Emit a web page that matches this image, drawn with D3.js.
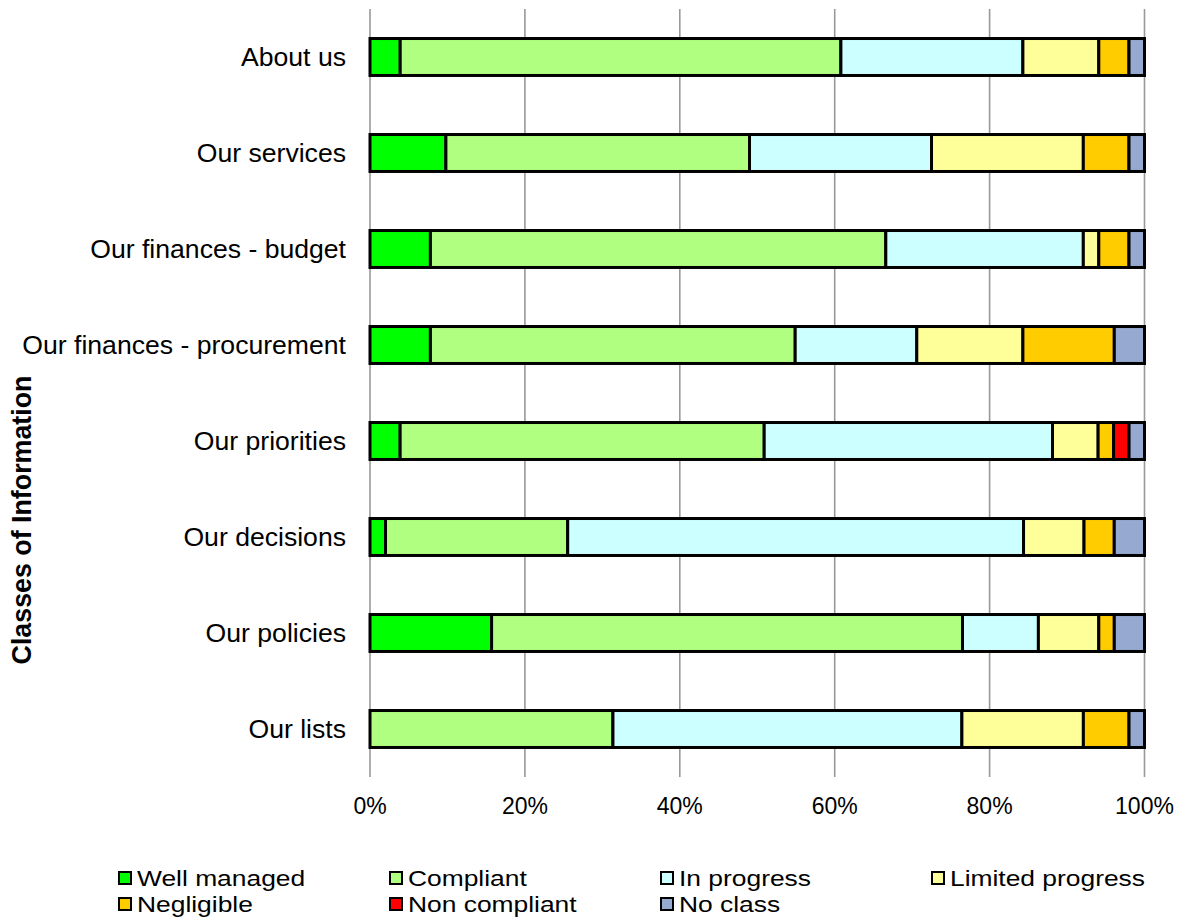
<!DOCTYPE html>
<html>
<head>
<meta charset="utf-8">
<script src="https://cdn.jsdelivr.net/npm/d3@7/dist/d3.min.js"></script>
<style>
  html, body { margin: 0; padding: 0; background: #fff; }
  svg { display: block; font-family: "Liberation Sans", Arial, sans-serif; }
</style>
</head>
<body>
<svg id="chart" width="1185" height="919"></svg>
<script>
// Categories, top to bottom
const categories = [
  "About us",
  "Our services",
  "Our finances - budget",
  "Our finances - procurement",
  "Our priorities",
  "Our decisions",
  "Our policies",
  "Our lists"
];

// Series (percent of each class)
const seriesNames = ["Well managed", "Compliant", "In progress", "Limited progress", "Negligible", "Non compliant", "No class"];
const wellManaged     = [3.9,  9.8,  7.8,  7.8,  3.9,  2.0, 15.7,  0.0];
const compliant       = [56.9, 39.2, 58.8, 47.1, 47.1, 23.5, 60.8, 31.4];
const inProgress      = [23.5, 23.5, 25.5, 15.7, 37.3, 58.8,  9.8, 45.1];
const limitedProgress = [9.8, 19.6,  2.0, 13.7,  5.9,  7.8,  7.8, 15.7];
const negligible      = [3.9,  5.9,  3.9, 11.8,  2.0,  3.9,  2.0,  5.9];
const nonCompliant    = [0.0,  0.0,  0.0,  0.0,  2.0,  0.0,  0.0,  0.0];
const noClass         = [2.0,  2.0,  2.0,  3.9,  2.0,  3.9,  3.9,  2.0];

const seriesColors = ["#00ff00", "#b0ff80", "#ccffff", "#ffff99", "#ffcc00", "#ff0000", "#95a9d1"];

const xTicks = [0, 20, 40, 60, 80, 100];
const yTitle = "Classes of Information";

// Build table
const seriesValues = [wellManaged, compliant, inProgress, limitedProgress, negligible, nonCompliant, noClass];
const table = categories.map((c, i) => {
  const row = { category: c };
  seriesNames.forEach((s, j) => row[s] = seriesValues[j][i]);
  return row;
});

const stack = d3.stack().keys(seriesNames).offset(d3.stackOffsetExpand);
const stacked = stack(table);

const svg = d3.select("#chart");

const x = d3.scaleLinear().domain([0, 1]).range([370, 1144.5]);
const y = d3.scaleBand().domain(categories).range([9, 777]).paddingInner(0.615).paddingOuter(0.3075);

// Gridlines
svg.append("g").selectAll("line")
  .data(xTicks)
  .join("line")
  .attr("x1", d => x(d / 100)).attr("x2", d => x(d / 100))
  .attr("y1", 9).attr("y2", 777)
  .attr("stroke", "#999").attr("stroke-width", 1.6);

// X tick labels
svg.append("g").selectAll("text")
  .data(xTicks)
  .join("text")
  .attr("x", d => x(d / 100))
  .attr("y", 814)
  .attr("text-anchor", "middle")
  .attr("font-size", 23)
  .attr("fill", "#000")
  .text(d => d + "%");

// Category labels
svg.append("g").selectAll("text")
  .data(categories)
  .join("text")
  .attr("x", 346)
  .attr("y", d => y(d) + y.bandwidth() / 2)
  .attr("dy", "0.35em")
  .attr("text-anchor", "end")
  .attr("font-size", 26.6)
  .attr("fill", "#000")
  .text(d => d);

// Y title
svg.append("text")
  .attr("transform", "translate(31,520) rotate(-90)")
  .attr("text-anchor", "middle")
  .attr("font-size", 26.8)
  .attr("font-weight", "bold")
  .attr("fill", "#000")
  .text(yTitle);

// Bars
const layers = svg.append("g").selectAll("g")
  .data(stacked)
  .join("g")
  .attr("fill", (d, i) => seriesColors[i]);

layers.selectAll("rect")
  .data(d => d.filter(p => p[1] - p[0] > 0))
  .join("rect")
  .attr("x", d => x(d[0]))
  .attr("y", d => y(d.data.category))
  .attr("width", d => x(d[1]) - x(d[0]))
  .attr("height", y.bandwidth())
  .attr("stroke", "#000")
  .attr("stroke-width", 3);

// Legend
const legendCols = [118, 389, 660, 931];
const legendRows = [878, 904];
const legend = svg.append("g").selectAll("g")
  .data(seriesNames)
  .join("g")
  .attr("transform", (d, i) => `translate(${legendCols[i % 4]},${legendRows[Math.floor(i / 4)]})`);

legend.append("rect")
  .attr("x", 1).attr("y", -6)
  .attr("width", 12).attr("height", 12)
  .attr("fill", (d, i) => seriesColors[i])
  .attr("stroke", "#000")
  .attr("stroke-width", 2);

legend.append("text")
  .attr("transform", "translate(19,0) scale(1.2,1)")
  .attr("dy", "0.35em")
  .attr("font-size", 22)
  .attr("fill", "#000")
  .text(d => d);
</script>
</body>
</html>
